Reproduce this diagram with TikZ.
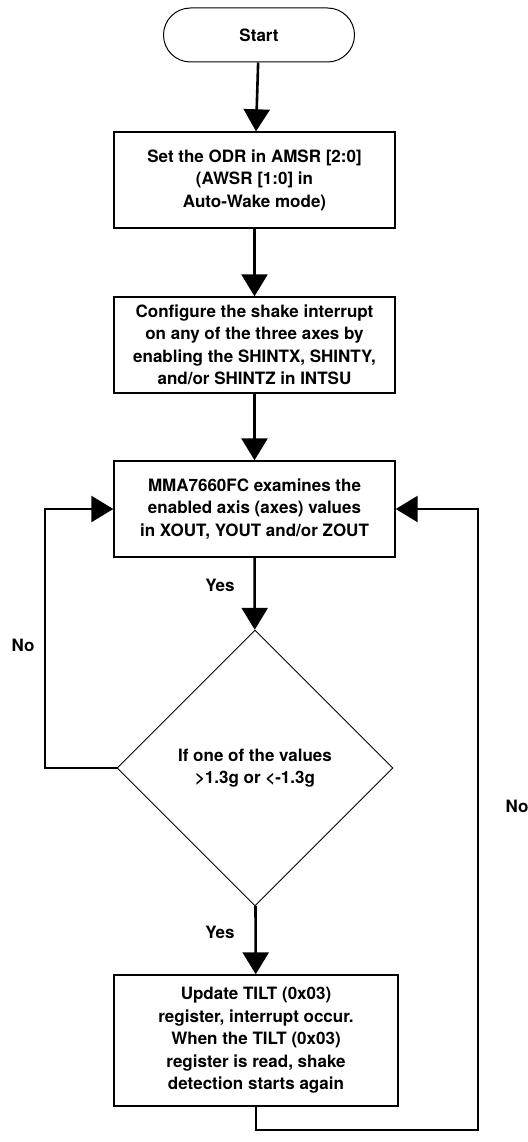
\documentclass[tikz,border=0pt]{standalone}
\usepackage{fontspec}
\setmainfont{TeX Gyre Heros}
\usetikzlibrary{arrows.meta,shapes.geometric}

\tikzset{every picture/.style={line width=0.75pt}}
\tikzset{
  txt/.style={font=\fontsize{17}{22.5}\selectfont\bfseries, align=center, inner sep=0pt},
  procbox/.style={txt, draw, line width=1.4pt, minimum width=281pt, minimum height=96pt},
  flow/.style={line width=2.6pt, -{Triangle[width=26pt,length=22pt]}},
}

\begin{document}
\begin{tikzpicture}[x=1pt,y=1pt,yscale=-1,xscale=1]
        \useasboundingbox (0,0) rectangle (527,1142);

        %Shape: Terminal [id:start]
        \node [txt, draw, line width=1pt, rounded corners=27pt, minimum width=191pt, minimum height=54pt] (start) at (259,35) {Start};
        %Shape: Rectangle [id:odr]
        \node [procbox] (odr) at (254.5,180) {Set the ODR in AMSR [2:0]\\(AWSR [1:0] in\\Auto-Wake mode)};
        %Shape: Rectangle [id:cfg]
        \node [procbox] (cfg) at (254.5,345) {Configure the shake interrupt\\on any of the three axes by\\enabling the SHINTX, SHINTY,\\and/or SHINTZ in INTSU};
        %Shape: Rectangle [id:exam]
        \node [procbox] (exam) at (254.5,509) {MMA7660FC examines the\\enabled axis (axes) values\\in XOUT, YOUT and/or ZOUT};
        %Shape: Diamond [id:dec]
        \node [txt, draw, diamond, aspect=1, line width=0.9pt, minimum width=276pt, minimum height=276pt] (dec) at (255,768) {If one of the values\\>1.3g or <-1.3g};
        %Shape: Rectangle [id:tilt]
        \node [procbox, minimum width=284pt, minimum height=131pt] (tilt) at (256,1040.5) {Update TILT (0x03)\\register, interrupt occur.\\When the TILT (0x03)\\register is read, shake\\detection starts again};

        %Straight Lines
        \draw [flow] (start) -- (odr);
        \draw [flow] (odr) -- (cfg);
        \draw [flow] (cfg) -- (exam);
        \draw [flow] (exam) -- (dec);
        \draw [flow] (dec) -- (tilt);

        %Loop back (left)
        \coordinate (lft) at (45,768);
        \draw [flow] (dec.west) -- (lft) |- (exam.west);
        %Loop back (right)
        \coordinate (btm) at (tilt.south |- 0,1130);
        \coordinate (rgt) at (478,1130);
        \draw [flow] (tilt.south) -- (btm) -- (rgt) |- (exam.east);

        % Text Node
        \node [txt] (yes1) at (220,585) {Yes};
        % Text Node
        \node [txt] (yes2) at (220,932) {Yes};
        % Text Node
        \node [txt] (no1) at (23,645) {No};
        % Text Node
        \node [txt] (no2) at (517,806) {No};
\end{tikzpicture}
\end{document}
